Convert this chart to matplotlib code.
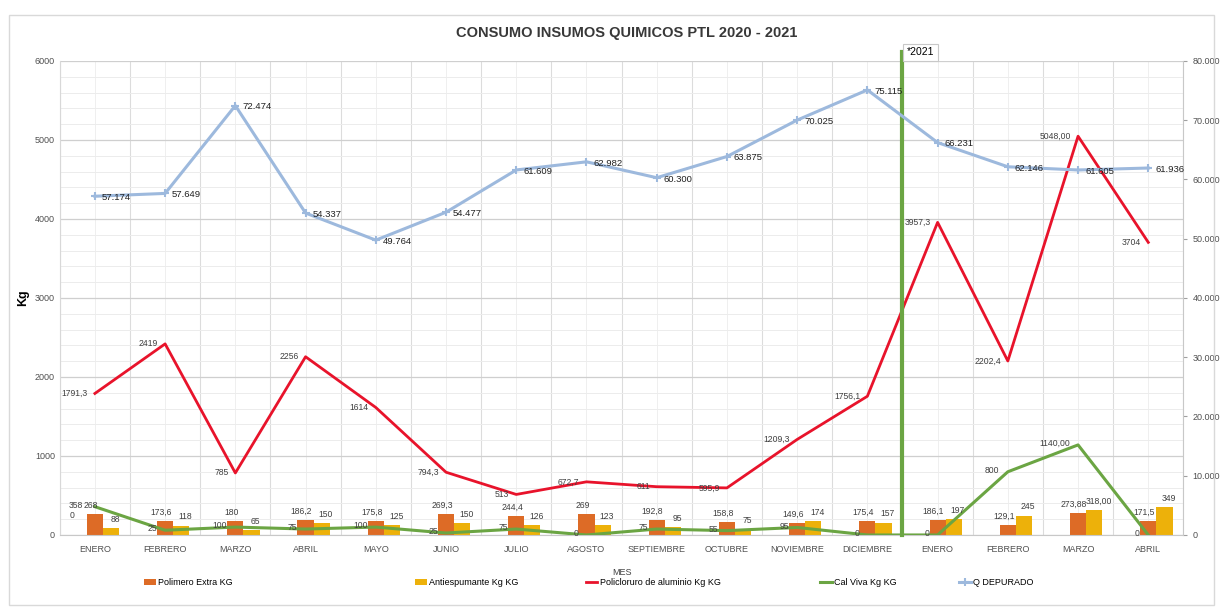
import matplotlib
matplotlib.use("Agg")
import matplotlib.pyplot as plt
from matplotlib.ticker import MultipleLocator, FixedLocator
from matplotlib.patches import Rectangle

plt.rcParams["font.family"] = ["Liberation Sans Narrow", "Liberation Sans", "DejaVu Sans"]

months = ["ENERO", "FEBRERO", "MARZO", "ABRIL", "MAYO", "JUNIO", "JULIO", "AGOSTO",
          "SEPTIEMBRE", "OCTUBRE", "NOVIEMBRE", "DICIEMBRE",
          "ENERO", "FEBRERO", "MARZO", "ABRIL"]
months_2020 = 12

polimero = [268, 173.6, 180, 186.2, 175.8, 269.3, 244.4, 269, 192.8, 158.8, 149.6, 175.4,
            186.1, 129.1, 273.88, 171.5]
polimero_labels = ["268", "173,6", "180", "186,2", "175,8", "269,3", "244,4", "269", "192,8",
                   "158,8", "149,6", "175,4", "186,1", "129,1", "273,88", "171,5"]
antiespumante = [88, 118, 65, 150, 125, 150, 126, 123, 95, 75, 174, 157, 197, 245, 318, 349]
antiespumante_labels = ["88", "118", "65", "150", "125", "150", "126", "123", "95", "75",
                        "174", "157", "197", "245", "318,00", "349"]
policloruro = [1791.3, 2419, 785, 2256, 1614, 794.3, 513, 672.7, 611, 595.9, 1209.3, 1756.1,
               3957.3, 2202.4, 5048, 3704]
policloruro_labels = ["1791,3", "2419", "785", "2256", "1614", "794,3", "513", "672,7", "611",
                      "595,9", "1209,3", "1756,1", "3957,3", "2202,4", "5048,00", "3704"]
cal_viva = [358, 60, 100, 75, 100, 25, 75, 0, 75, 55, 95, 0, 0, 800, 1140, 0]
cal_viva_labels = ["358", "25", "100", "75", "100", "25", "75", "0", "75", "55", "95", "0",
                   "0", "800", "1140,00", "0"]
q_depurado = [57174, 57649, 72474, 54337, 49764, 54477, 61609, 62982, 60300, 63875, 70025,
              75115, 66231, 62146, 61605, 61936]

legend_names = ["Polimero Extra KG", "Antiespumante Kg KG", "Policloruro de aluminio Kg KG",
                "Cal Viva Kg KG", "Q DEPURADO"]

C_ORANGE = "#DD6B26"
C_YELLOW = "#EDB10A"
C_RED = "#E8132B"
C_GREEN = "#6BA543"
C_BLUE = "#9DB9DD"
C_LABEL = "#404040"


def main():
    fig = plt.figure(figsize=(12.2, 6.1), dpi=100)
    ax = fig.add_axes([0.049, 0.123, 0.921, 0.777])
    ax2 = ax.twinx()

    x = list(range(len(months)))
    w = 0.23

    b1 = ax.bar(x, polimero, width=w, color=C_ORANGE, zorder=2)
    b2 = ax.bar([i + w for i in x], antiespumante, width=w, color=C_YELLOW, zorder=2)
    l1, = ax.plot(x, policloruro, color=C_RED, lw=2, zorder=3)
    l2, = ax.plot(x, cal_viva, color=C_GREEN, lw=2.2, zorder=3)
    l3, = ax2.plot(x, q_depurado, color=C_BLUE, lw=2.2, marker="+", ms=6, mew=1.5,
                   zorder=3)

    lab_fs = 6.2
    for i in x:
        ax.annotate(polimero_labels[i], (i, polimero[i]), xytext=(-3, 3),
                    textcoords="offset points", ha="center", va="bottom",
                    fontsize=lab_fs, color=C_LABEL, zorder=5)
        ax.annotate(antiespumante_labels[i], (i + w, antiespumante[i]), xytext=(3, 3),
                    textcoords="offset points", ha="center", va="bottom",
                    fontsize=lab_fs, color=C_LABEL, zorder=5)
        ax.annotate(policloruro_labels[i], (i, policloruro[i]), xytext=(-5, 0),
                    textcoords="offset points", ha="right", va="center",
                    fontsize=lab_fs, color=C_LABEL, zorder=5)
        dx = -9 if i == 0 else -6
        ax.annotate(cal_viva_labels[i], (i, cal_viva[i]), xytext=(dx, 1),
                    textcoords="offset points", ha="right", va="center",
                    fontsize=lab_fs, color=C_LABEL, zorder=5)
        ax2.annotate(f"{q_depurado[i]:,}".replace(",", "."), (i, q_depurado[i]),
                     xytext=(5, -1), textcoords="offset points", ha="left", va="center",
                     fontsize=6.8, color="#202020", zorder=5)
    # zero label of the empty first bar slot
    ax.annotate("0", (-w, 0), xytext=(-5, 11), textcoords="offset points", ha="center",
                va="bottom", fontsize=lab_fs, color=C_LABEL, zorder=6)

    # 2020 / 2021 divider
    div = months_2020 - 0.5
    ax.plot([div, div], [0, 6115], color=C_GREEN, lw=3, clip_on=False, zorder=4)
    ax.text(div + 0.06, 6110, "*2021", fontsize=7.5, ha="left", va="center",
            bbox=dict(boxstyle="square,pad=0.35", fc="white", ec="#c8c8c8", lw=0.8),
            zorder=6, clip_on=False)

    ax.set_xlim(-0.5, len(months) - 0.5)
    ax.set_ylim(0, 6000)
    ax2.set_ylim(0, 80000)

    ax.set_xticks(x)
    ax.set_xticklabels(months, fontsize=6.5, color="#505050")
    ax.xaxis.set_minor_locator(FixedLocator([i - 0.5 for i in range(len(months) + 1)]))
    ax.tick_params(axis="x", which="both", length=0, pad=7)
    ax.yaxis.set_major_locator(MultipleLocator(1000))
    ax.yaxis.set_minor_locator(MultipleLocator(200))
    ax.tick_params(axis="y", which="both", length=0, labelsize=6.5, labelcolor="#505050")

    ax.grid(True, which="major", axis="y", color="#cfcfcf", lw=0.9, zorder=0)
    ax.grid(True, which="minor", axis="y", color="#ececec", lw=0.7, zorder=0)
    ax.grid(True, which="minor", axis="x", color="#dcdcdc", lw=0.8, zorder=0)
    ax.grid(True, which="major", axis="x", color="#efefef", lw=0.7, zorder=0)
    ax.set_axisbelow(True)

    ax2.yaxis.set_major_locator(MultipleLocator(10000))
    ax2.set_yticklabels([f"{int(v):,}".replace(",", ".") for v in ax2.get_yticks()])
    ax2.tick_params(axis="y", length=3, color="#a0a0a0", labelsize=6.5,
                    labelcolor="#505050")

    for a in (ax, ax2):
        for s in a.spines.values():
            s.set_visible(False)
    ax.spines["bottom"].set_visible(True)
    ax.spines["bottom"].set_color("#c8c8c8")
    ax.spines["left"].set_visible(True)
    ax.spines["left"].set_color("#d8d8d8")
    ax2.spines["right"].set_visible(True)
    ax2.spines["right"].set_color("#c8c8c8")

    ax.set_ylabel("Kg", fontsize=9, fontweight="bold", labelpad=2)
    ax.yaxis.set_label_coords(-0.027, 0.5)
    ax.set_xlabel("MES", fontsize=6.5, color="#404040", labelpad=10)

    fig.text(0.514, 0.946, "CONSUMO INSUMOS QUIMICOS PTL 2020 - 2021", ha="center",
             va="center", fontsize=10.5, fontweight="bold", color="#383838")

    # legend entries placed one by one, as spread out as in the reference
    handles = [b1, b2, l1, l2, l3]
    legend_x = [0.118, 0.340, 0.480, 0.672, 0.786]
    for h, name, lx in zip(handles, legend_names, legend_x):
        fig.legend([h], [name], loc="center left", bbox_to_anchor=(lx, 0.045),
                   frameon=False, fontsize=6.5, handlelength=1.3, handletextpad=0.3,
                   borderaxespad=0, borderpad=0)

    fig.patches.append(Rectangle((0.007, 0.008), 0.988, 0.967, transform=fig.transFigure,
                                 fill=False, ec="#d9d9d9", lw=1))

    fig.savefig("out.png", dpi=100)


if __name__ == "__main__":
    main()
